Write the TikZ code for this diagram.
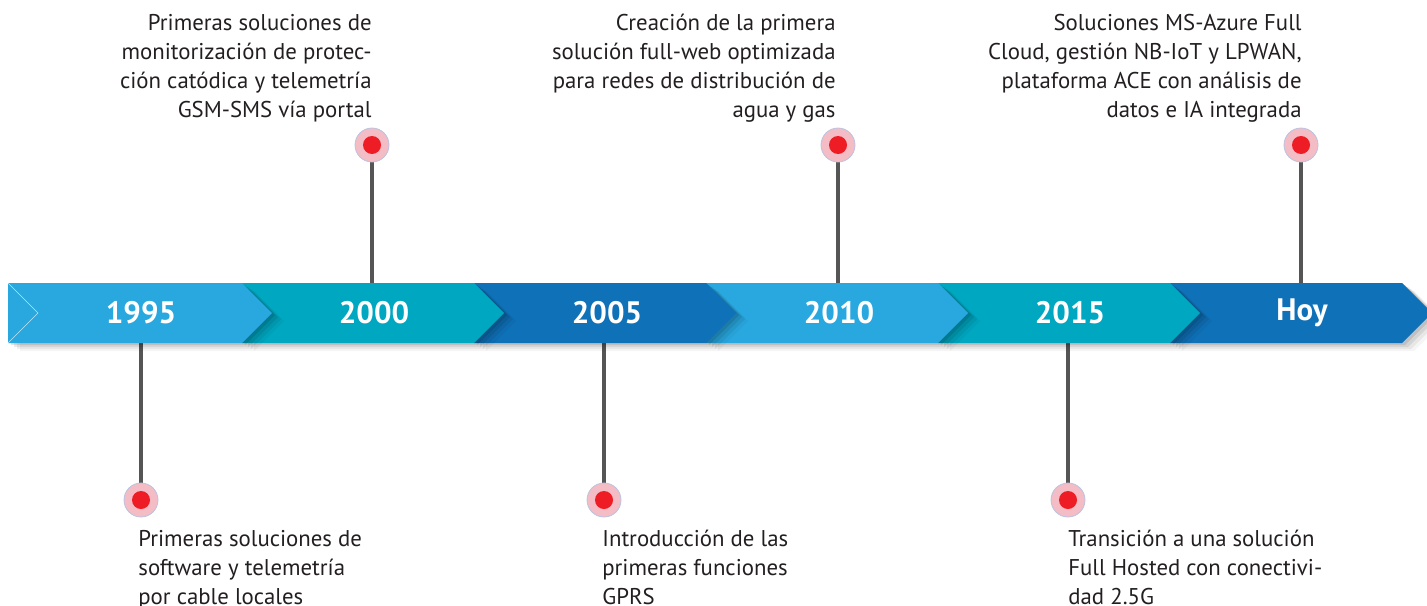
\documentclass[tikz,border=0pt]{standalone}
\usepackage{fontspec}
\setmainfont{PT Sans}
\usetikzlibrary{shadows}

\definecolor{cielo}{HTML}{29A8E0}
\definecolor{turquesa}{HTML}{00A7C1}
\definecolor{azul}{HTML}{0F71B8}
\definecolor{rojo}{HTML}{EE1D25}
\definecolor{halo}{HTML}{F4BCC4}
\definecolor{borde}{HTML}{B9C3E0}
\definecolor{tinta}{HTML}{231F20}
\definecolor{palo}{HTML}{555555}

\begin{document}
\begin{tikzpicture}[x=0.5pt,y=-0.5pt,
  sombra/.style = {drop shadow={shadow xshift=1.5pt, shadow yshift=-1pt, opacity=.10, fill=black},
                   drop shadow={shadow xshift=3pt, shadow yshift=-2pt, opacity=.08, fill=black},
                   drop shadow={shadow xshift=4.5pt, shadow yshift=-3pt, opacity=.06, fill=black},
                   drop shadow={shadow xshift=6pt, shadow yshift=-4pt, opacity=.04, fill=black}},
  anio/.style = {text=white, font=\fontsize{15.5}{17}\selectfont\bfseries},
  punto/.style = {circle, fill=rojo, minimum size=9pt, inner sep=0pt},
  texto/.style = {text=tinta, inner sep=0pt, font=\fontsize{11.4}{14.5}\selectfont}
  ]
\useasboundingbox (0,0) rectangle (1427,605);
\clip (0,0) rectangle (1427,605);
\coordinate (banda) at (0,313);
\coordinate (c1995) at (141,500);
\coordinate (c2000) at (372,145);
\coordinate (c2005) at (604,500);
\coordinate (c2010) at (838,145);
\coordinate (c2015) at (1068,500);
\coordinate (cHoy) at (1301,145);

% palos
\draw[palo, line width=2pt] (c1995) -- (c1995 |- banda);
\draw[palo, line width=2pt] (c2000) -- (c2000 |- banda);
\draw[palo, line width=2pt] (c2005) -- (c2005 |- banda);
\draw[palo, line width=2pt] (c2010) -- (c2010 |- banda);
\draw[palo, line width=2pt] (c2015) -- (c2015 |- banda);
\draw[palo, line width=2pt] (cHoy) -- (cHoy |- banda);

% flechas, de derecha a izquierda
\fill[azul, sombra] (1170,283) -- (1402,283) -- (1432,313) -- (1402,343) -- (1170,343) -- cycle;
\fill[turquesa, sombra] (938,283) -- (1170,283) -- (1200,313) -- (1170,343) -- (938,343) -- cycle;
\fill[cielo, sombra] (706,283) -- (938,283) -- (968,313) -- (938,343) -- (706,343) -- cycle;
\fill[azul, sombra] (474,283) -- (706,283) -- (736,313) -- (706,343) -- (474,343) -- cycle;
\fill[turquesa, sombra] (242,283) -- (474,283) -- (504,313) -- (474,343) -- (242,343) -- cycle;
\fill[cielo, sombra] (8,283) -- (242,283) -- (272,313) -- (242,343) -- (8,343) -- cycle;
\draw[white, opacity=.7, line width=.3pt] (8,283) -- (38,313) -- (8,343);

\node[anio] (a1995) at (141,313) {1995};
\node[anio] (a2000) at (374,313) {2000};
\node[anio] (a2005) at (607,313) {2005};
\node[anio] (a2010) at (839,313) {2010};
\node[anio] (a2015) at (1070,313) {2015};
\node[anio] (aHoy) at (1302,313) {Hoy};

% puntos
\foreach \c in {c1995,c2000,c2005,c2010,c2015,cHoy}
  \fill[halo, draw=borde, line width=.4pt] (\c) circle (8.5pt);
\node[punto] (p1995) at (c1995) {};
\node[punto] (p2000) at (c2000) {};
\node[punto] (p2005) at (c2005) {};
\node[punto] (p2010) at (c2010) {};
\node[punto] (p2015) at (c2015) {};
\node[punto] (pHoy) at (cHoy) {};

% textos
\node[texto, align=right, anchor=north east] (t2000) at (372,14)
  {Primeras soluciones de\\monitorización de protec-\\ción catódica y telemetría\\GSM-SMS vía portal};
\node[texto, align=right, anchor=north east] (t2010) at (836,14)
  {Creación de la primera\\solución full-web optimizada\\para redes de distribución de\\agua y gas};
\node[texto, align=right, anchor=north east] (tHoy) at (1302,14)
  {Soluciones MS-Azure Full\\Cloud, gestión NB-IoT y LPWAN,\\plataforma ACE con análisis de\\datos e IA integrada};
\node[texto, align=left, anchor=north west] (t1995) at (138,530)
  {Primeras soluciones de\\software y telemetría\\por cable locales};
\node[texto, align=left, anchor=north west] (t2005) at (602,530)
  {Introducción de las\\primeras funciones\\GPRS};
\node[texto, align=left, anchor=north west] (t2015) at (1068,530)
  {Transición a una solución\\Full Hosted con conectivi-\\dad 2.5G};
\end{tikzpicture}
\end{document}
